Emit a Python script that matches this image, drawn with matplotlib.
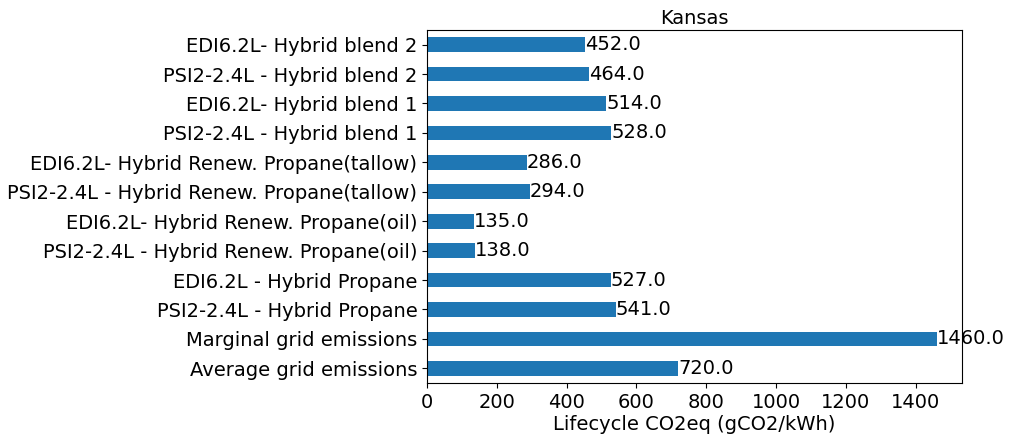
import matplotlib
matplotlib.use("Agg")
import matplotlib.pyplot as plt

labels = [
    "Average grid emissions",
    "Marginal grid emissions",
    "PSI2-2.4L - Hybrid Propane",
    "EDI6.2L - Hybrid Propane",
    "PSI2-2.4L - Hybrid Renew. Propane(oil)",
    "EDI6.2L- Hybrid Renew. Propane(oil)",
    "PSI2-2.4L - Hybrid Renew. Propane(tallow)",
    "EDI6.2L- Hybrid Renew. Propane(tallow)",
    "PSI2-2.4L - Hybrid blend 1",
    "EDI6.2L- Hybrid blend 1",
    "PSI2-2.4L - Hybrid blend 2",
    "EDI6.2L- Hybrid blend 2",
]
values = [720.0, 1460.0, 541.0, 527.0, 138.0, 135.0, 294.0, 286.0, 528.0, 514.0, 464.0, 452.0]

fs = 14

fig, ax = plt.subplots(figsize=(10.13, 4.4), dpi=100)
fig.subplots_adjust(left=0.4215, right=0.9497, top=0.932, bottom=0.1295)

pos = list(range(len(labels)))
bars = ax.barh(pos, values, height=0.5, color="#1f77b4")
ax.set_yticks(pos)
ax.set_yticklabels(labels, fontsize=fs)
ax.set_ylim(-0.5, len(labels) - 0.5)
ax.bar_label(bars, fmt="%.1f", fontsize=fs, padding=0)
ax.tick_params(axis="x", labelsize=fs)
ax.set_xlabel("Lifecycle CO2eq (gCO2/kWh)", fontsize=fs, labelpad=2)
ax.set_title("Kansas", fontsize=fs, pad=4)

fig.savefig("out.png")
